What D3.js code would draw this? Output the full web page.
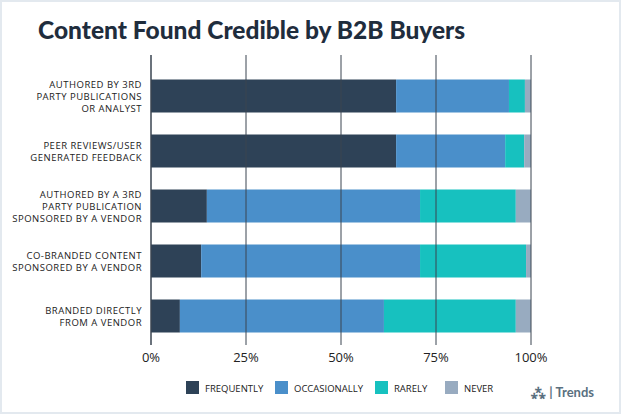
<!DOCTYPE html><html><head><meta charset="utf-8">
<script src="https://cdn.jsdelivr.net/npm/d3@7"></script>
<style>body{margin:0;background:#fff}svg{display:block}</style></head><body>
<script>
const categories=[["AUTHORED BY 3RD","PARTY PUBLICATIONS","OR ANALYST"],["PEER REVIEWS/USER","GENERATED FEEDBACK"],["AUTHORED BY A 3RD","PARTY PUBLICATION","SPONSORED BY A VENDOR"],["CO-BRANDED CONTENT","SPONSORED BY A VENDOR"],["BRANDED DIRECTLY","FROM A VENDOR"]];
const seriesNames=["FREQUENTLY","OCCASIONALLY","RARELY","NEVER"];
const frequently=[64.5,64.5,14.7,13.2,7.6];
const occasionally=[29.7,28.7,56.1,57.6,53.7];
const rarely=[4.2,5.0,25.2,27.9,34.7];
const never=[1.6,1.8,4.0,1.3,4.0];
const ticks=[0,25,50,75,100];
const colors=["#2e4257","#4a8fca","#17c1bf","#98abc0"];
const W=621,H=414;
const svg=d3.select("body").append("svg").attr("width",W).attr("height",H);
svg.append("rect").attr("x",1).attr("y",1).attr("width",W-2).attr("height",H-2).attr("fill","#fff").attr("stroke","#e3e9ef").attr("stroke-width",2);
svg.append("text").attr("x",38).attr("y",39).attr("font-family","Lato, sans-serif").attr("font-weight",900).attr("font-size",24.5).attr("fill","#1f2d3d").text("Content Found Credible by B2B Buyers");
const x=d3.scaleLinear().domain([0,100]).range([151,531]);
const y=d3.scaleBand().domain(d3.range(5)).range([68.5,343.5]).paddingInner(0.4).paddingOuter(0.2);
const data=[frequently,occasionally,rarely,never];
const stack=categories.map((c,i)=>{let acc=0;return data.map((s,k)=>{const d={i,k,x0:acc,x1:acc+s[i]};acc+=s[i];return d;});}).flat();
svg.append("g").selectAll("rect").data(stack).join("rect").attr("x",d=>x(d.x0)).attr("width",d=>x(d.x1)-x(d.x0)).attr("y",d=>y(d.i)).attr("height",y.bandwidth()).attr("fill",d=>colors[d.k]);
svg.append("g").selectAll("line").data(ticks).join("line").attr("x1",d=>x(d)).attr("x2",d=>x(d)).attr("y1",55).attr("y2",345).attr("stroke","#3a4450").attr("stroke-width",d=>d==0?1.5:1);
svg.append("g").selectAll("text").data(ticks).join("text").attr("x",d=>x(d)).attr("y",362).attr("text-anchor","middle").attr("font-family","Open Sans, sans-serif").attr("font-size",13).attr("fill","#222").text(d=>d+"%");
const lab=svg.append("g");
categories.forEach((c,i)=>{const cy=y(i)+y.bandwidth()/2;const t=lab.append("text").attr("text-anchor","end").attr("font-family","Open Sans, sans-serif").attr("font-size",9.5).attr("letter-spacing",0.5).attr("fill","#222");
c.forEach((l,j)=>t.append("tspan").attr("x",142).attr("y",cy+(j-(c.length-1)/2)*12+3.5).text(l));});
const lx=[186,275,375,445];
seriesNames.forEach((n,k)=>{svg.append("rect").attr("x",lx[k]).attr("y",381).attr("width",13).attr("height",13).attr("fill",colors[k]);
svg.append("text").attr("x",lx[k]+19).attr("y",392).attr("font-family","Open Sans, sans-serif").attr("font-size",9.5).attr("fill","#222").text(n);});
svg.append("text").attr("x",594).attr("y",397).attr("text-anchor","end").attr("font-family","Lato, sans-serif").attr("font-weight",700).attr("font-size",13).attr("fill","#5a7080").text("⁂ | Trends");
</script></body></html>
